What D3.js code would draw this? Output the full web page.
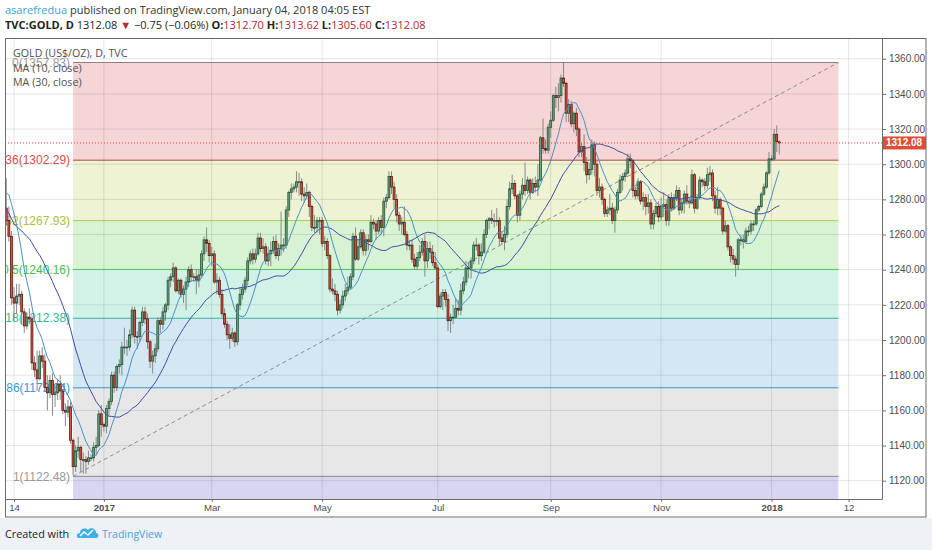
<!DOCTYPE html>
<html>
<head>
<meta charset="utf-8">
<script src="https://cdn.jsdelivr.net/npm/d3@7"></script>
<style>
  body { margin: 0; background: #fff; }
  svg { display: block; }
</style>
</head>
<body>
<div id="chart"></div>
<script>
// daily candles, one row per weekday: [open, high, low, close]
const firstDay = "2016-09-26";
const sep2016 = [[1339,1343,1334,1338],[1338,1341,1323,1327],[1327,1330,1316,1320],[1320,1325,1314,1317],[1317,1322,1312,1315]];
const oct2016 = [[1315,1318,1309,1312],[1312,1314,1266,1269],[1269,1274,1263,1266],[1266,1268,1251,1253],[1253,1264,1241,1257],
  [1257,1263,1254,1259],[1259,1262,1250,1253],[1253,1259,1250,1255],[1255,1263,1252,1258],[1258,1262,1249,1252],
  [1252,1259,1250,1253],[1253,1264,1251,1262],[1262,1272,1259,1269],[1269,1272,1262,1266],[1266,1269,1262,1267],
  [1267,1268,1260,1264],[1264,1275,1261,1273],[1273,1276,1263,1267],[1267,1272,1262,1268],[1268,1284,1263,1276],[1276,1278,1271,1277]];
const nov2016 = [[1277,1290,1275,1288],[1288,1299,1286,1297],[1297,1306,1296,1303],[1303,1306,1296,1304],
  [1304,1306,1276,1280],[1280,1285,1272,1275],[1275,1292,1265,1268],[1268,1276,1256,1259],[1259,1262,1220,1224],
  [1224,1230,1211,1221],[1221,1232,1215,1225],[1225,1232,1220,1226],[1226,1228,1209,1216],[1216,1218,1204,1208],
  [1208,1216,1206,1213],[1213,1218,1209,1212],[1212,1214,1183,1187],[1187,1191,1179,1183],[1183,1194,1171,1178],
  [1178,1194,1177,1191],[1191,1196,1184,1188],[1188,1192,1171,1173]];
const dec2016 = [[1173,1180,1160,1170],[1170,1180,1167,1177],
  [1177,1181,1157,1169],[1169,1175,1162,1170],[1170,1178,1166,1175],[1175,1180,1166,1171],[1171,1172,1158,1160],
  [1160,1164,1151,1159],[1159,1166,1156,1162],[1162,1165,1141,1143],[1143,1144,1123,1128],[1128,1140,1125,1137],
  [1137,1145,1133,1139],[1139,1140,1125,1132],[1132,1136,1124,1132],[1132,1134,1124,1131],[1131,1137,1129,1133],
  [1133,1135,1131,1133],[1133,1142,1131,1139],[1139,1145,1135,1140],[1140,1160,1139,1158],[1158,1163,1145,1152]];
const jan2017 = [[1152,1153,1148,1151],[1151,1163,1147,1161],[1161,1167,1157,1165],[1165,1182,1163,1180],[1180,1182,1170,1173],
  [1173,1186,1171,1185],[1185,1189,1181,1186],[1186,1199,1180,1196],[1196,1207,1192,1196],[1196,1200,1191,1196],
  [1196,1206,1194,1203],[1203,1219,1201,1217],[1217,1219,1198,1202],[1202,1205,1195,1202],[1202,1211,1199,1210],
  [1210,1219,1208,1216],[1216,1219,1209,1212],[1212,1215,1195,1199],[1199,1200,1184,1188],[1188,1194,1181,1191],
  [1191,1198,1187,1195],[1195,1213,1193,1211]];
const feb2017 = [[1211,1213,1204,1209],[1209,1219,1206,1216],[1216,1221,1211,1220],
  [1220,1236,1217,1234],[1234,1238,1230,1236],[1236,1244,1233,1241],[1241,1242,1227,1228],[1228,1235,1226,1234],
  [1234,1235,1224,1226],[1226,1231,1221,1229],[1229,1236,1217,1233],[1233,1242,1230,1240],[1240,1243,1233,1236],
  [1236,1238,1233,1236],[1236,1240,1226,1234],[1234,1240,1230,1237],[1237,1251,1236,1249],[1249,1259,1245,1257],
  [1257,1264,1250,1255],[1255,1257,1244,1248]];
const mar2017 = [[1248,1253,1242,1249],[1249,1251,1232,1233],[1233,1238,1226,1234],
  [1234,1236,1224,1226],[1226,1229,1213,1215],[1215,1218,1207,1209],[1209,1211,1200,1203],[1203,1209,1195,1201],
  [1201,1207,1199,1204],[1204,1205,1196,1199],[1199,1221,1197,1220],[1220,1230,1217,1226],[1226,1232,1223,1229],
  [1229,1236,1227,1234],[1234,1247,1231,1245],[1245,1251,1243,1249],[1249,1252,1243,1246],[1246,1252,1244,1249],
  [1249,1261,1248,1258],[1258,1261,1250,1252],[1252,1258,1249,1253],[1253,1255,1243,1245],[1245,1253,1242,1249]];
const apr2017 = [[1249,1256,1242,1251],[1251,1259,1249,1256],[1256,1260,1246,1248],[1248,1255,1245,1252],[1252,1273,1248,1254],
  [1254,1258,1250,1254],[1254,1276,1252,1274],[1274,1285,1270,1284],[1284,1289,1280,1286],[1286,1289,1284,1287],
  [1287,1296,1284,1290],[1290,1295,1282,1290],[1290,1292,1279,1283],[1283,1287,1278,1282],[1282,1289,1280,1284],
  [1284,1285,1270,1276],[1276,1277,1262,1264],[1264,1271,1261,1264],[1264,1270,1261,1268],[1268,1270,1260,1268]];
const may2017 = [[1268,1270,1253,1255],[1255,1259,1251,1256],[1256,1258,1246,1248],[1248,1249,1227,1229],[1229,1235,1226,1228],
  [1228,1232,1222,1226],[1226,1228,1214,1217],[1217,1223,1215,1220],[1220,1228,1218,1225],[1225,1232,1222,1228],
  [1228,1236,1226,1230],[1230,1238,1229,1236],[1236,1261,1234,1259],[1259,1264,1245,1246],[1246,1257,1245,1253],
  [1253,1263,1252,1261],[1261,1263,1248,1251],[1251,1260,1248,1257],[1257,1260,1251,1256],[1256,1271,1255,1267],
  [1267,1269,1263,1266],[1266,1268,1257,1262],[1262,1270,1260,1268]];
const jun2017 = [[1268,1271,1260,1264],[1264,1281,1259,1279],
  [1279,1283,1275,1281],[1281,1296,1280,1293],[1293,1296,1283,1287],[1287,1290,1275,1280],[1280,1283,1267,1271],
  [1271,1273,1262,1266],[1266,1270,1260,1267],[1267,1276,1259,1260],[1260,1262,1251,1254],[1254,1257,1251,1254],
  [1254,1257,1244,1246],[1246,1249,1240,1242],[1242,1250,1240,1247],[1247,1254,1245,1250],[1250,1258,1248,1256],
  [1256,1260,1236,1245],[1245,1256,1241,1252],[1252,1256,1246,1250],[1250,1254,1242,1244],[1244,1250,1240,1241]];
const jul2017 = [[1241,1243,1218,1219],[1219,1227,1218,1225],[1225,1229,1217,1227],[1227,1229,1219,1223],[1223,1226,1205,1211],
  [1211,1215,1204,1213],[1213,1220,1209,1213],[1213,1224,1212,1218],[1218,1223,1214,1217],[1217,1232,1214,1228],
  [1228,1236,1226,1233],[1233,1245,1231,1241],[1241,1244,1235,1241],[1241,1247,1235,1245],[1245,1256,1243,1254],
  [1254,1258,1251,1254],[1254,1255,1243,1248],[1248,1255,1245,1250],[1250,1263,1249,1260],[1260,1269,1258,1268],
  [1268,1270,1263,1269]];
const aug2017 = [[1269,1274,1266,1268],[1268,1272,1264,1268],[1268,1275,1265,1268],[1268,1270,1254,1258],
  [1258,1262,1254,1256],[1256,1265,1251,1260],[1260,1280,1258,1276],[1276,1290,1274,1286],[1286,1294,1283,1289],
  [1289,1291,1280,1282],[1282,1283,1267,1271],[1271,1285,1268,1283],[1283,1292,1280,1288],[1288,1301,1282,1285],
  [1285,1293,1283,1291],[1291,1292,1280,1284],[1284,1292,1283,1289],[1289,1293,1284,1287],[1287,1300,1282,1291],
  [1291,1316,1290,1315],[1315,1326,1306,1309],[1309,1314,1306,1308],[1308,1323,1306,1321]];
const sep2017 = [[1321,1330,1315,1325],
  [1325,1340,1324,1339],[1339,1344,1332,1338],[1338,1346,1330,1339],[1339,1351,1335,1349],[1349,1358,1344,1346],
  [1346,1347,1324,1329],[1329,1337,1324,1334],[1334,1336,1321,1323],[1323,1330,1318,1329],[1329,1332,1316,1320],
  [1320,1321,1304,1307],[1307,1312,1304,1310],[1310,1317,1296,1301],[1301,1304,1289,1294],[1294,1301,1291,1297],
  [1297,1314,1294,1311],[1311,1313,1293,1300],[1300,1302,1282,1285],[1285,1292,1281,1287],[1287,1289,1277,1280]];
const oct2017 = [[1280,1281,1270,1272],[1272,1276,1270,1274],[1274,1283,1271,1275],[1275,1278,1266,1268],[1268,1276,1261,1274],
  [1274,1286,1272,1284],[1284,1294,1283,1291],[1291,1295,1285,1293],[1293,1297,1290,1295],[1295,1306,1294,1303],
  [1303,1306,1298,1302],[1302,1303,1281,1285],[1285,1287,1280,1282],[1282,1292,1280,1290],[1290,1291,1277,1279],
  [1279,1284,1274,1281],[1281,1283,1271,1276],[1276,1283,1272,1278],[1278,1280,1263,1266],[1266,1274,1263,1272],
  [1272,1278,1270,1276],[1276,1279,1267,1270]];
const nov2017 = [[1270,1281,1268,1276],[1276,1284,1270,1277],[1277,1280,1265,1268],
  [1268,1283,1265,1281],[1281,1284,1273,1275],[1275,1283,1274,1281],[1281,1288,1279,1285],[1285,1287,1271,1274],
  [1274,1280,1272,1278],[1278,1285,1272,1283],[1283,1288,1277,1279],[1279,1281,1275,1278],[1278,1297,1277,1294],
  [1294,1295,1272,1275],[1275,1283,1274,1281],[1281,1293,1280,1291],[1291,1292,1287,1290],[1290,1292,1285,1288],
  [1288,1298,1286,1294],[1294,1299,1290,1295],[1295,1297,1279,1282],[1282,1285,1272,1275]];
const dec2017 = [[1275,1287,1271,1280],
  [1280,1281,1271,1275],[1275,1276,1260,1262],[1262,1268,1261,1265],[1265,1266,1251,1253],[1253,1254,1244,1248],
  [1248,1252,1243,1246],[1246,1248,1236,1243],[1243,1258,1240,1257],[1257,1260,1254,1257],[1257,1260,1252,1256],
  [1256,1264,1255,1262],[1262,1265,1259,1262],[1262,1268,1260,1266],[1266,1268,1262,1266],[1266,1275,1265,1274],
  [1274,1277,1273,1276],[1276,1284,1275,1283],[1283,1289,1282,1287],[1287,1296,1286,1295],[1295,1307,1294,1303]];
const jan2018 = [[1303,1305,1302,1303],[1303,1320,1302,1317],[1317,1322,1307,1312.83],[1312.70,1313.62,1305.60,1312.08]];

// time axis
const tickDates = ["2016-11-14","2017-01-02","2017-03-01","2017-05-01","2017-07-03","2017-09-01","2017-11-01","2018-01-01","2018-02-12"];
const tickLabels = ["14","2017","Mar","May","Jul","Sep","Nov","2018","12"];

// fibonacci retracement drawn from the Dec 2016 low
const fibStartDate = "2016-12-15";
const fibEndDate = "2018-02-06";
const fibRatios = ["0","0.236","0.382","0.5","0.618","0.786","1","1.618"];
const fibPrices = [1357.83,1302.29,1267.93,1240.16,1212.38,1172.84,1122.48,977.03];

// header quote
const symbolName = "TVC:GOLD, D";
const lastPrice = 1312.08;
const change = "\u22120.75 (\u22120.06%)";
const quote = [["O:", "1312.70"], ["H:", "1313.62"], ["L:", "1305.60"], ["C:", "1312.08"]];

const W = 932, H = 550;
const plot = { left: 5, right: 882, top: 38, bottom: 499 };
const sans = "'Open Sans', 'Liberation Sans', sans-serif";
const arial = "'Liberation Sans', Arial, sans-serif";

const up = "#6ba583", upEdge = "#225437", down = "#d75442", downEdge = "#5b1a13";
const fibLine = ["#8f7f7f","#b0413a","#b4c850","#4fc94f","#36b39a","#3596cf","#8a8a8a","#6a5acd"];
const fibText = ["#9a9a9a","#d4504a","#a9c23c","#45c145","#2fba94","#3599d6","#999999","#6a5acd"];
const fibZone = ["#f5d5d5","#eef3d3","#d8f3d4","#d3f2e7","#d4e8f4","#e7e7e7","#d8d5f2"];

const parse = d3.timeParse("%Y-%m-%d");
const fmt = d3.timeFormat("%Y-%m-%d");
const weekdays = d3.timeDay.range(parse(firstDay), parse("2018-03-01")).filter(d => d.getDay() % 6 !== 0);
const barOf = new Map(weekdays.map((d, i) => [fmt(d), i]));

const rows = [].concat(sep2016, oct2016, nov2016, dec2016, jan2017, feb2017, mar2017, apr2017,
  may2017, jun2017, jul2017, aug2017, sep2017, oct2017, nov2017, dec2017, jan2018);
const bars = rows.map((r, i) => ({ i, o: r[0], h: r[1], l: r[2], c: r[3] }));

function movingAvg(n) {
  return bars.map((b, i) => i < n - 1 ? null : d3.mean(bars.slice(i - n + 1, i + 1), d => d.c));
}
const ma10 = movingAvg(10), ma30 = movingAvg(30);

const x = d3.scaleLinear().domain([31.5, 373]).range([plot.left, plot.right]);
const y = d3.scaleLinear().domain([1120, 1360]).range([480.7, 58.7]);
const priceTicks = d3.range(1120, 1361, 20);
const tickBars = tickDates.map(d => barOf.get(d));

const svg = d3.select("#chart").append("svg").attr("width", W).attr("height", H);

svg.append("rect").attr("x", 0).attr("y", 518).attr("width", W).attr("height", H - 518).attr("fill", "#eef1f5");

svg.append("clipPath").attr("id", "plotClip").append("rect")
  .attr("x", plot.left).attr("y", plot.top)
  .attr("width", plot.right - plot.left).attr("height", plot.bottom - plot.top);

const g = svg.append("g").attr("clip-path", "url(#plotClip)");

// fib zones
const fx0 = x(barOf.get(fibStartDate)), fx1 = x(barOf.get(fibEndDate));
fibZone.forEach((col, k) => {
  g.append("rect")
    .attr("x", fx0).attr("width", fx1 - fx0)
    .attr("y", y(fibPrices[k])).attr("height", y(fibPrices[k + 1]) - y(fibPrices[k]))
    .attr("fill", col);
});

// grid
g.selectAll(".hgrid").data(priceTicks).join("line").attr("class", "hgrid")
  .attr("x1", plot.left).attr("x2", plot.right)
  .attr("y1", d => y(d)).attr("y2", d => y(d))
  .attr("stroke", "rgba(0,0,0,0.1)");
g.selectAll(".vgrid").data(tickBars).join("line").attr("class", "vgrid")
  .attr("x1", d => x(d)).attr("x2", d => x(d))
  .attr("y1", plot.top).attr("y2", plot.bottom)
  .attr("stroke", "rgba(0,0,0,0.1)");

// fib level lines and labels
fibPrices.forEach((p, k) => {
  g.append("line")
    .attr("x1", fx0).attr("x2", fx1).attr("y1", y(p)).attr("y2", y(p))
    .attr("stroke", fibLine[k]).attr("stroke-width", 1);
  g.append("text")
    .attr("x", fx0 - 3).attr("y", y(p)).attr("dy", "0.35em")
    .attr("text-anchor", "end")
    .attr("font-family", arial).attr("font-size", 12)
    .attr("fill", fibText[k])
    .text(`${fibRatios[k]}(${p.toFixed(2)})`);
});

// trend line of the fib tool
g.append("line")
  .attr("x1", fx0).attr("y1", y(fibPrices[6]))
  .attr("x2", fx1).attr("y2", y(fibPrices[0]))
  .attr("stroke", "#8c8c8c").attr("stroke-dasharray", "4,3");

// candles
const bw = 1.9;
g.selectAll(".wick").data(bars).join("line").attr("class", "wick")
  .attr("x1", d => x(d.i)).attr("x2", d => x(d.i))
  .attr("y1", d => y(d.h)).attr("y2", d => y(d.l))
  .attr("stroke", "#7d7d7d").attr("stroke-width", 0.9);
g.selectAll(".body").data(bars).join("rect").attr("class", "body")
  .attr("x", d => x(d.i) - bw / 2).attr("width", bw)
  .attr("y", d => y(Math.max(d.o, d.c)))
  .attr("height", d => Math.max(0.8, Math.abs(y(d.o) - y(d.c))))
  .attr("fill", d => d.c >= d.o ? up : down)
  .attr("stroke", d => d.c >= d.o ? upEdge : downEdge)
  .attr("stroke-width", 0.8);

// moving averages
const maLine = arr => d3.line().defined((d, i) => arr[i] !== null).x((d, i) => x(i)).y((d, i) => y(arr[i]))(bars);
g.append("path").attr("d", maLine(ma30)).attr("fill", "none").attr("stroke", "#3d4ea0").attr("stroke-width", 1);
g.append("path").attr("d", maLine(ma10)).attr("fill", "none").attr("stroke", "#4a90c8").attr("stroke-width", 1);

// last price line
g.append("line")
  .attr("x1", plot.left).attr("x2", plot.right)
  .attr("y1", y(lastPrice)).attr("y2", y(lastPrice))
  .attr("stroke", "#e2453c").attr("stroke-dasharray", "1,2");

// legend
const legend = svg.append("g").attr("font-family", sans).attr("font-size", 10.7).attr("fill", "#505050");
legend.append("text").attr("x", 13).attr("y", 57).text("GOLD (US$/OZ), D, TVC");
legend.append("text").attr("x", 13).attr("y", 72).text("MA (10, close)");
legend.append("text").attr("x", 13).attr("y", 86).text("MA (30, close)");

// price axis
const yAxis = svg.append("g").attr("transform", `translate(${plot.right},0)`)
  .call(d3.axisRight(y).tickValues(priceTicks).tickFormat(d3.format(".2f")).tickSize(4).tickPadding(3));
yAxis.select(".domain").remove();
yAxis.selectAll("line").attr("stroke", "#6b6b6b");
yAxis.selectAll("text").attr("font-family", arial).attr("font-size", 10).attr("fill", "#4d4d4d");

svg.append("rect").attr("x", plot.right).attr("y", y(lastPrice) - 6.5).attr("width", 44).attr("height", 13).attr("fill", "#e04b3a");
svg.append("text").attr("x", plot.right + 4).attr("y", y(lastPrice)).attr("dy", "0.35em")
  .attr("font-family", arial).attr("font-size", 10).attr("font-weight", "bold").attr("fill", "#fff")
  .text(lastPrice.toFixed(2));

// time axis
const xAxis = svg.append("g").attr("transform", `translate(0,${plot.bottom})`)
  .call(d3.axisBottom(x).tickValues(tickBars).tickFormat((d, i) => tickLabels[i]).tickSize(3).tickPadding(2));
xAxis.select(".domain").remove();
xAxis.selectAll("line").attr("stroke", "#6b6b6b");
xAxis.selectAll("text").attr("font-family", arial).attr("font-size", 9.6).attr("fill", "#4d4d4d")
  .attr("font-weight", (d, i) => /^\d{4}$/.test(tickLabels[i]) ? "bold" : "normal");

// frame
const frame = svg.append("g").attr("stroke", "#6b6b6b").attr("fill", "none");
frame.append("rect").attr("x", 5.5).attr("y", 38.5).attr("width", 920.5).attr("height", 478.5);
frame.append("line").attr("x1", plot.right + 0.5).attr("x2", plot.right + 0.5).attr("y1", 38.5).attr("y2", plot.bottom + 0.5);
frame.append("line").attr("x1", 5.5).attr("x2", plot.right + 0.5).attr("y1", plot.bottom + 0.5).attr("y2", plot.bottom + 0.5);

// header
const h1 = svg.append("text").attr("x", 5).attr("y", 14).attr("font-family", sans).attr("font-size", 11).attr("fill", "#333");
h1.append("tspan").attr("fill", "#3a9fd8").text("asarefredua");
h1.append("tspan").text(" published on TradingView.com, January 04, 2018 04:05 EST");

const h2 = svg.append("text").attr("x", 5).attr("y", 29).attr("font-family", sans).attr("font-size", 11).attr("fill", "#222");
h2.append("tspan").attr("font-weight", "bold").text(symbolName);
h2.append("tspan").text("  " + lastPrice.toFixed(2) + " ");
h2.append("tspan").attr("fill", "#c0252a").text("\u25BC");
h2.append("tspan").text(" " + change + " ");
quote.forEach(([k, v], i) => {
  h2.append("tspan").attr("font-weight", "bold").text((i ? " " : "") + k);
  h2.append("tspan").attr("fill", "#b8262b").text(v);
});

// footer
svg.append("text").attr("x", 5).attr("y", 538).attr("font-family", sans).attr("font-size", 10.8).attr("fill", "#222").text("Created with");
const logo = svg.append("g").attr("transform", "translate(77,527)");
logo.append("path").attr("d", "M2,11 C-1,11 -1,6 3,6 C3,2 8,0 11,3 C13,0 19,1 19,6 C22,6 22,11 19,11 Z").attr("fill", "#3bb0e6");
logo.append("polyline").attr("points", "3,9 7,5 11,8 16,3").attr("fill", "none").attr("stroke", "#fff").attr("stroke-width", 1.5);
svg.append("text").attr("x", 102).attr("y", 538).attr("font-family", sans).attr("font-size", 10.5).attr("fill", "#41a5dc").text("TradingView");
</script>
</body>
</html>
